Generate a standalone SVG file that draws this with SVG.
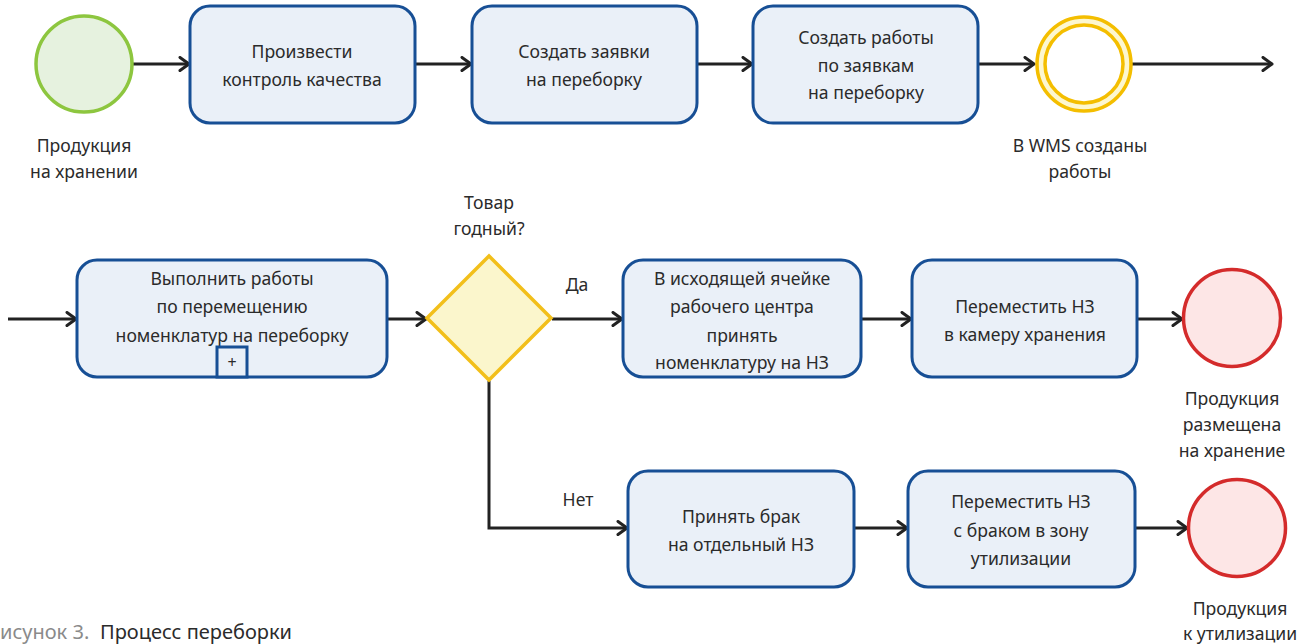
<svg xmlns="http://www.w3.org/2000/svg" width="1304" height="644" viewBox="0 0 1304 644">
<style>
text{font-family:"Noto Sans","Open Sans","DejaVu Sans",sans-serif;font-size:17.6px;fill:#2b2b2b;text-anchor:middle}
.task{fill:#eaf0f8;stroke:#174f95;stroke-width:3}
.flow{fill:none;stroke:#222;stroke-width:3;marker-end:url(#arr)}
.cap{text-anchor:start;font-size:20px}
</style>
<defs>
<marker id="arr" markerWidth="16" markerHeight="16" refX="12" refY="8" orient="auto" markerUnits="userSpaceOnUse">
<path d="M3,1.5 L12,8 L3,14.5" fill="none" stroke="#222" stroke-width="3" stroke-linecap="round" stroke-linejoin="round"/>
</marker>
</defs>
<g id="connectors">
<path class="flow" d="M132,64 H189"/>
<path class="flow" d="M415,64 H471"/>
<path class="flow" d="M697,64 H752"/>
<path class="flow" d="M978,64 H1034"/>
<path class="flow" d="M1132,64 H1272"/>
<path class="flow" d="M8,319 H76"/>
<path class="flow" d="M387,319 H426"/>
<path class="flow" d="M552,319 H622"/>
<path class="flow" d="M861,319 H911"/>
<path class="flow" d="M1137,319 H1182"/>
<path class="flow" d="M489,381 V528 H627"/>
<path class="flow" d="M854,528 H907"/>
<path class="flow" d="M1135,528 H1187"/>
<text x="577" y="291">Да</text>
<text x="578" y="506">Нет</text>
</g>
<g id="start">
<circle cx="84" cy="64" r="48" fill="#e6f2df" stroke="#8dc63f" stroke-width="3.5"/>
<text x="84" y="152">Продукция</text>
<text x="84" y="178">на хранении</text>
</g>
<g id="task1">
<rect class="task" x="190" y="6" width="225" height="117" rx="20"/>
<text x="302" y="58">Произвести</text>
<text x="302" y="86">контроль качества</text>
</g>
<g id="task2">
<rect class="task" x="472" y="6" width="225" height="117" rx="20"/>
<text x="584" y="58">Создать заявки</text>
<text x="584" y="86">на переборку</text>
</g>
<g id="task3">
<rect class="task" x="753" y="6" width="225" height="117" rx="20"/>
<text x="866" y="44">Создать работы</text>
<text x="866" y="72">по заявкам</text>
<text x="866" y="99">на переборку</text>
</g>
<g id="event-wms">
<circle cx="1084" cy="64" r="47" fill="#fdf7cf" stroke="#f4be00" stroke-width="3.5"/>
<circle cx="1084" cy="64" r="39" fill="#ffffff" stroke="#f4be00" stroke-width="3.5"/>
<text x="1080" y="152">В WMS созданы</text>
<text x="1080" y="178">работы</text>
</g>
<g id="task4">
<rect class="task" x="77" y="260" width="310" height="117" rx="20"/>
<text x="232" y="285">Выполнить работы</text>
<text x="232" y="313">по перемещению</text>
<text x="232" y="342">номенклатур на переборку</text>
<rect class="task" x="217" y="347" width="30" height="30" rx="0"/>
<text x="232" y="368" style="font-size:16px">+</text>
</g>
<g id="gateway">
<path d="M489,256 L551,318 L489,380 L427,318 Z" fill="#fbf6cc" stroke="#f2bf1a" stroke-width="3.5" stroke-linejoin="miter"/>
<text x="489" y="209">Товар</text>
<text x="489" y="235">годный?</text>
</g>
<g id="task5">
<rect class="task" x="623" y="260" width="238" height="117" rx="20"/>
<text x="742" y="285">В исходящей ячейке</text>
<text x="742" y="313">рабочего центра</text>
<text x="742" y="342">принять</text>
<text x="742" y="369">номенклатуру на НЗ</text>
</g>
<g id="task6">
<rect class="task" x="912" y="260" width="225" height="117" rx="20"/>
<text x="1025" y="313">Переместить НЗ</text>
<text x="1025" y="341">в камеру хранения</text>
</g>
<g id="end-storage">
<circle cx="1232" cy="318" r="48.5" fill="#fde6e6" stroke="#d42b2b" stroke-width="3.5"/>
<text x="1232" y="405">Продукция</text>
<text x="1232" y="431">размещена</text>
<text x="1232" y="457">на хранение</text>
</g>
<g id="task7">
<rect class="task" x="628" y="471" width="226" height="116" rx="20"/>
<text x="741" y="523">Принять брак</text>
<text x="741" y="551">на отдельный НЗ</text>
</g>
<g id="task8">
<rect class="task" x="908" y="471" width="227" height="116" rx="20"/>
<text x="1021" y="508">Переместить НЗ</text>
<text x="1021" y="537">с браком в зону</text>
<text x="1021" y="565">утилизации</text>
</g>
<g id="end-disposal">
<circle cx="1237" cy="528" r="48.5" fill="#fde6e6" stroke="#d42b2b" stroke-width="3.5"/>
<text x="1240" y="615">Продукция</text>
<text x="1240" y="640">к утилизации</text>
</g>
<g id="caption">
<text class="cap" x="0" y="639"><tspan fill="#8a8a8a">исунок 3.</tspan><tspan x="100" fill="#2b2b2b">Процесс переборки</tspan></text>
</g>
</svg>
